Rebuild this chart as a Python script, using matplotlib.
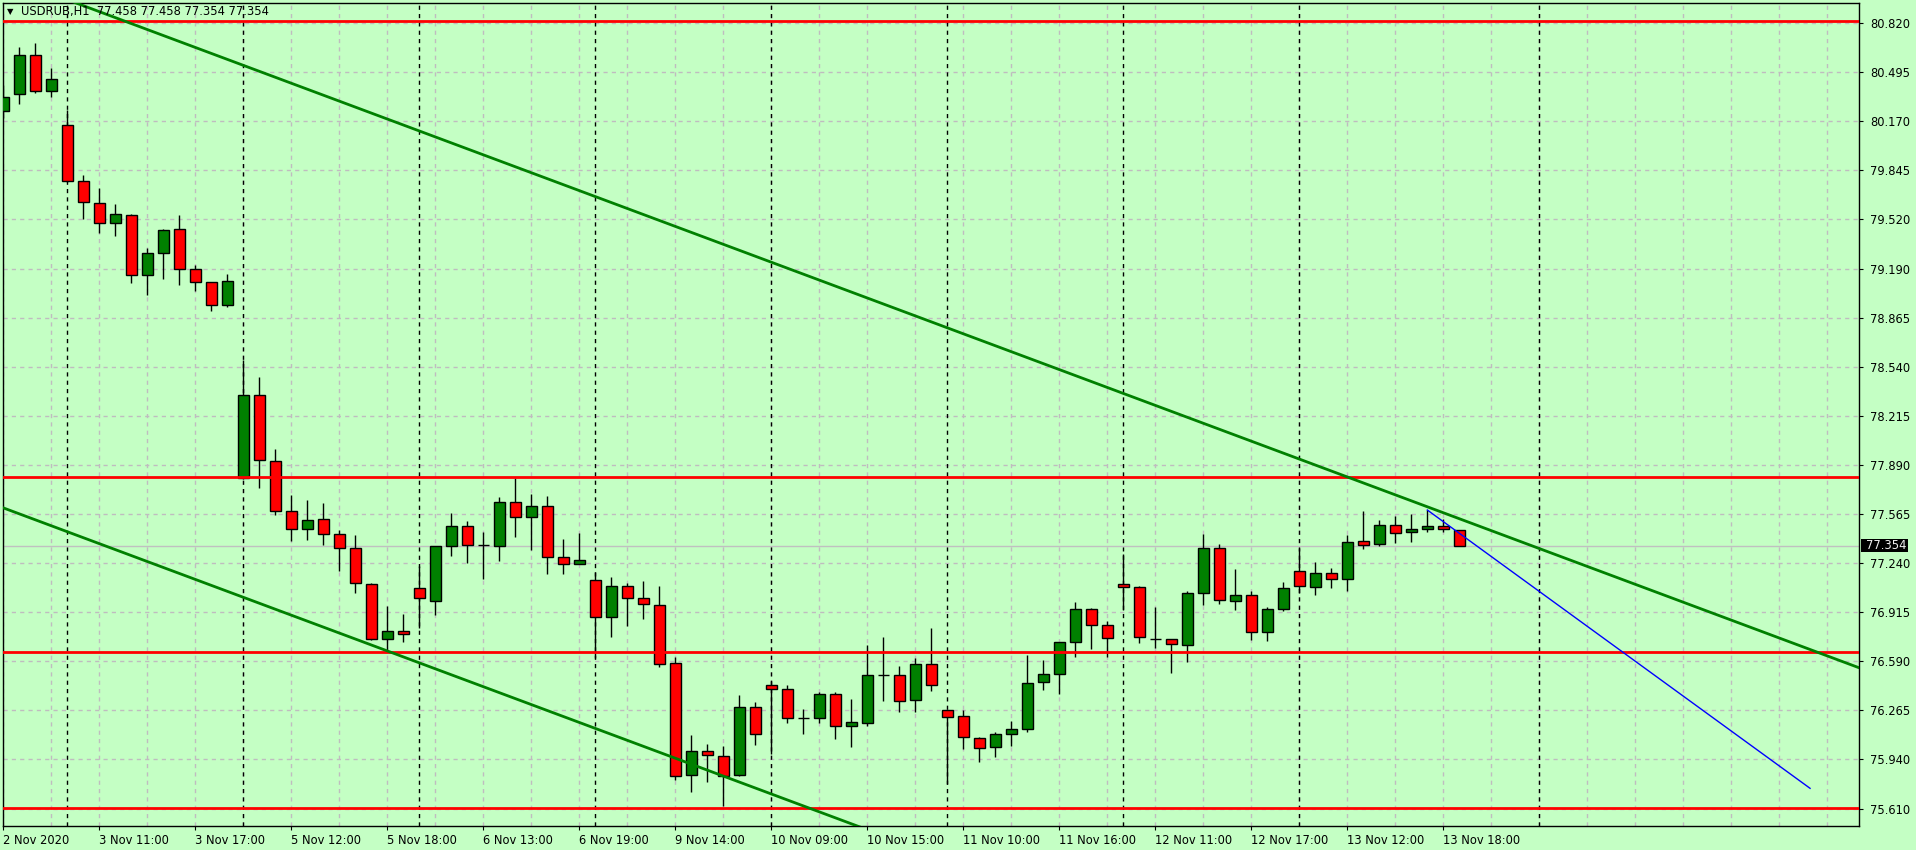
import matplotlib
matplotlib.use('Agg')
import matplotlib.pyplot as plt
from matplotlib.patches import Rectangle

# USDRUB H1 candles, 2 Nov 16:00 .. 13 Nov 19:00 (bar index = position)
opens = [80.238, 80.349, 80.608, 80.369, 80.144, 79.772, 79.626, 79.493, 79.547, 79.149,
         79.294, 79.454, 79.190, 79.102, 78.950, 77.802, 78.353, 77.915, 77.583, 77.464,
         77.530, 77.431, 77.338, 77.099, 76.734, 76.787, 77.072, 76.986, 77.351, 77.484,
         77.360, 77.355, 77.643, 77.543, 77.617, 77.278, 77.232, 77.126, 76.880, 77.086,
         77.006, 76.960, 76.575, 75.832, 75.991, 75.958, 75.832, 76.283, 76.433, 76.402,
         76.210, 76.210, 76.369, 76.157, 76.177, 76.495, 76.495, 76.330, 76.568, 76.263,
         76.224, 76.078, 76.018, 76.104, 76.137, 76.449, 76.502, 76.714, 76.933, 76.827,
         77.099, 77.079, 76.738, 76.734, 76.695, 77.039, 77.338, 76.986, 77.026, 76.780,
         76.933, 77.185, 77.079, 77.172, 77.132, 77.384, 77.364, 77.490, 77.444, 77.464,
         77.484, 77.458]
highs = [80.411, 80.661, 80.689, 80.522, 80.243, 79.814, 79.726, 79.622, 79.553, 79.328,
         79.454, 79.548, 79.217, 79.106, 79.157, 78.587, 78.474, 77.997, 77.691, 77.658,
         77.638, 77.459, 77.424, 77.105, 76.955, 76.902, 77.220, 77.351, 77.570, 77.517,
         77.446, 77.678, 77.804, 77.696, 77.683, 77.397, 77.441, 77.178, 77.146, 77.105,
         77.119, 77.086, 76.615, 76.097, 76.038, 76.026, 76.363, 76.316, 76.459, 76.429,
         76.270, 76.383, 76.383, 76.336, 76.694, 76.747, 76.555, 76.608, 76.807, 76.263,
         76.263, 76.085, 76.117, 76.190, 76.628, 76.595, 76.714, 76.980, 76.940, 76.853,
         77.298, 77.086, 76.946, 76.734, 77.052, 77.430, 77.364, 77.198, 77.052, 76.946,
         77.112, 77.338, 77.245, 77.205, 77.424, 77.583, 77.526, 77.550, 77.565, 77.592,
         77.532, 77.458]
lows = [80.190, 80.287, 80.360, 80.333, 79.765, 79.522, 79.427, 79.411, 79.099, 79.020,
        79.126, 79.086, 79.046, 78.914, 78.936, 77.800, 77.740, 77.557, 77.388, 77.395,
        77.362, 77.189, 77.043, 76.730, 76.663, 76.714, 76.807, 76.894, 77.289, 77.238,
        77.137, 77.255, 77.415, 77.328, 77.169, 77.169, 77.232, 76.608, 76.752, 76.824,
        76.871, 76.548, 75.803, 75.719, 75.786, 75.630, 75.825, 76.031, 75.971, 76.177,
        76.104, 76.177, 76.071, 76.018, 76.157, 76.327, 76.250, 76.250, 76.389, 75.772,
        76.005, 75.918, 75.955, 76.024, 76.117, 76.396, 76.373, 76.619, 76.672, 76.619,
        76.926, 76.707, 76.679, 76.509, 76.582, 76.960, 76.967, 76.926, 76.731, 76.721,
        76.920, 77.039, 77.026, 77.072, 77.052, 77.331, 77.351, 77.375, 77.382, 77.444,
        77.444, 77.354]
closes = [80.333, 80.608, 80.369, 80.449, 79.772, 79.633, 79.493, 79.553, 79.149, 79.294,
          79.449, 79.188, 79.102, 78.950, 79.109, 78.353, 77.921, 77.583, 77.464, 77.524,
          77.431, 77.338, 77.105, 76.734, 76.787, 76.767, 77.006, 77.351, 77.484, 77.358,
          77.360, 77.643, 77.543, 77.617, 77.278, 77.232, 77.258, 76.880, 77.086, 77.006,
          76.967, 76.568, 75.825, 75.991, 75.965, 75.825, 76.283, 76.104, 76.402, 76.210,
          76.210, 76.369, 76.157, 76.184, 76.495, 76.495, 76.323, 76.568, 76.429, 76.217,
          76.085, 76.011, 76.104, 76.137, 76.442, 76.502, 76.714, 76.933, 76.827, 76.741,
          77.079, 76.747, 76.738, 76.701, 77.039, 77.338, 76.993, 77.026, 76.780, 76.933,
          77.072, 77.086, 77.172, 77.132, 77.377, 77.358, 77.490, 77.437, 77.464, 77.484,
          77.464, 77.354]

# time axis labels (every 6 bars)
xlabel_pos = [0, 6, 12, 18, 24, 30, 36, 42, 48, 54, 60, 66, 72, 78, 84, 90]
xlabels = ['2 Nov 2020', '3 Nov 11:00', '3 Nov 17:00', '5 Nov 12:00', '5 Nov 18:00',
           '6 Nov 13:00', '6 Nov 19:00', '9 Nov 14:00', '10 Nov 09:00', '10 Nov 15:00',
           '11 Nov 10:00', '11 Nov 16:00', '12 Nov 11:00', '12 Nov 17:00', '13 Nov 12:00',
           '13 Nov 18:00']
day_starts = [4, 15, 26, 37, 48, 59, 70, 81, 96]

yticks = [80.820, 80.495, 80.170, 79.845, 79.520, 79.190, 78.865, 78.540, 78.215,
          77.890, 77.565, 77.240, 76.915, 76.590, 76.265, 75.940, 75.610]

# drawn objects
levels = [80.837, 77.813, 76.652, 75.616]
upper_trend = ([0, 116], [81.135, 76.545])
lower_trend = ([0, 60], [77.606, 75.234])
blue_line = ([89, 112.92], [77.592, 75.746])
last_price = 77.354

bg = '#c4ffc4'
W, H = 1916, 850

fig = plt.figure(figsize=(W / 100, H / 100), dpi=100)
fig.patch.set_facecolor(bg)
ax = fig.add_axes([2.7 / W, (H - 826) / H, (1859 - 2.7) / W, (826 - 2.7) / H])
ax.set_facecolor(bg)
ax.set_xlim(-0.04, 115.98)
ax.set_ylim(75.496, 80.957)

# grid
for k in range(0, 116, 3):
    ax.axvline(k, color='#bfbcbf', lw=1, ls=(0, (3, 3)), zorder=0)
for v in yticks:
    ax.axhline(v, color='#bfbcbf', lw=1, ls=(0, (3, 3)), zorder=0)
# day separators
for d in day_starts:
    ax.axvline(d, color='black', lw=1, ls=(0, (3, 3)), zorder=1)

ax.axhline(last_price, color='#c0c0c0', lw=1, zorder=1)

# candles
for i in range(len(opens)):
    o, h, l, c = opens[i], highs[i], lows[i], closes[i]
    col = 'green' if c >= o else 'red'
    ax.vlines(i, l, h, color='black', lw=1, zorder=3)
    ax.add_patch(Rectangle((i - 0.33, min(o, c)), 0.66, abs(c - o),
                           facecolor=col, edgecolor='black', lw=1, zorder=4))

for v in levels:
    ax.axhline(v, color='red', lw=2, zorder=5)
ax.plot(*upper_trend, color='green', lw=2, zorder=5)
ax.plot(*lower_trend, color='green', lw=2, zorder=5)
ax.plot(*blue_line, color='blue', lw=1, zorder=6)

# axes
for s in ax.spines.values():
    s.set_color('black')
    s.set_linewidth(1)
ax.set_xticks(xlabel_pos)
ax.set_xticklabels(xlabels, ha='left')
ax.tick_params(axis='x', length=3, pad=3, labelsize=8.3, colors='black')
ax.yaxis.tick_right()
ax.set_yticks(yticks)
ax.set_yticklabels(['%.3f' % v for v in yticks])
ax.tick_params(axis='y', length=3, pad=5, labelsize=8.3, colors='black')

# current price tag
ytr = ax.get_yaxis_transform()
ax.add_patch(Rectangle((1.0011, 77.314), 0.0254, 0.084, transform=ytr,
                       facecolor='black', edgecolor='none', clip_on=False, zorder=9))
ax.text(1.0037, last_price, '%.3f' % last_price, transform=ytr,
        ha='left', va='center', color='#f0f0f0', fontsize=8.3, clip_on=False, zorder=10)

fig.text(7 / W, 1 - 12 / H, '\u25bc', fontsize=6, va='center', ha='left')
fig.text(21 / W, 1 - 12 / H, 'USDRUB,H1  77.458 77.458 77.354 77.354',
         fontsize=8.3, va='center', ha='left')

fig.savefig('out.png', dpi=100, facecolor=bg)
